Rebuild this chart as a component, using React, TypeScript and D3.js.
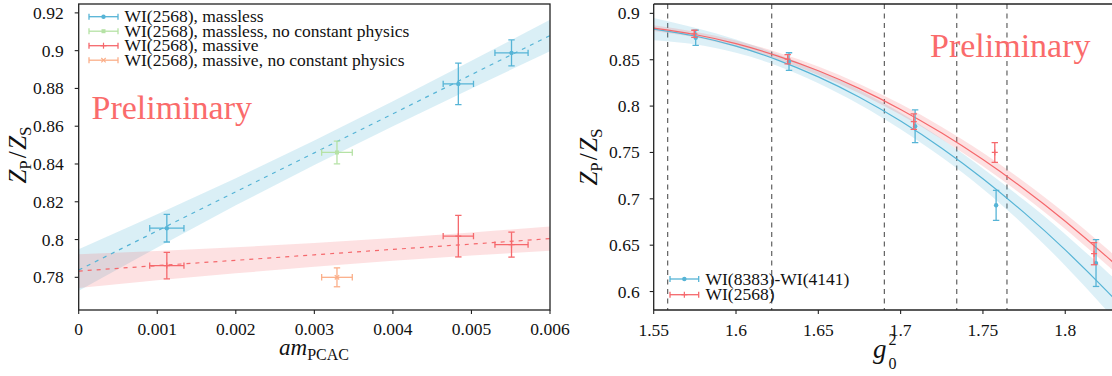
import React from "react";
import * as d3 from "d3";

// ---------- Left panel data ----------
const leftXTicks = [0, 0.001, 0.002, 0.003, 0.004, 0.005, 0.006];
const leftXTickLabels = ["0", "0.001", "0.002", "0.003", "0.004", "0.005", "0.006"];
const leftYTicks = [0.78, 0.8, 0.82, 0.84, 0.86, 0.88, 0.9, 0.92];
const leftYTickLabels = ["0.78", "0.8", "0.82", "0.84", "0.86", "0.88", "0.9", "0.92"];

const masslessX = [0.001122, 0.004833, 0.00551];
const masslessXErr = [0.000218, 0.000193, 0.000211];
const masslessY = [0.806, 0.8824, 0.8988];
const masslessYErr = [0.0073, 0.011, 0.0069];

const masslessNcpX = [0.003288];
const masslessNcpXErr = [0.000195];
const masslessNcpY = [0.8461];
const masslessNcpYErr = [0.006];

const massiveX = [0.001122, 0.004833, 0.00551];
const massiveXErr = [0.000218, 0.000193, 0.000211];
const massiveY = [0.7862, 0.8018, 0.7973];
const massiveYErr = [0.007, 0.011, 0.0066];

const massiveNcpX = [0.003288];
const massiveNcpXErr = [0.000195];
const massiveNcpY = [0.78];
const massiveNcpYErr = [0.005];

const leftFitX = [0, 0.001, 0.002, 0.003, 0.004, 0.005, 0.006];
const masslessFit = [0.7839, 0.8046, 0.8253, 0.8459, 0.8666, 0.8873, 0.908];
const masslessBand = [0.011, 0.0088, 0.0072, 0.0065, 0.0066, 0.0073, 0.0083];
const massiveFit = [0.7833, 0.7862, 0.789, 0.7919, 0.7948, 0.7976, 0.8005];
const massiveBand = [0.0089, 0.0078, 0.0069, 0.0063, 0.006, 0.0061, 0.0064];

const leftLegend = [
  "WI(2568), massless",
  "WI(2568), massless, no constant physics",
  "WI(2568), massive",
  "WI(2568), massive, no constant physics",
];

// ---------- Right panel data ----------
const rightXTicks = [1.55, 1.6, 1.65, 1.7, 1.75, 1.8];
const rightXTickLabels = ["1.55", "1.6", "1.65", "1.7", "1.75", "1.8"];
const rightYTicks = [0.6, 0.65, 0.7, 0.75, 0.8, 0.85, 0.9];
const rightYTickLabels = ["0.6", "0.65", "0.7", "0.75", "0.8", "0.85", "0.9"];

const wi8383X = [1.5755, 1.6322, 1.7088, 1.758, 1.8187];
const wi8383Y = [0.8737, 0.848, 0.7783, 0.693, 0.6307];
const wi8383Err = [0.0083, 0.0095, 0.0176, 0.0162, 0.0252];

const wi2568X = [1.5747, 1.6314, 1.708, 1.7572, 1.8175];
const wi2568Y = [0.878, 0.8506, 0.7832, 0.75, 0.6408];
const wi2568Err = [0.0038, 0.005, 0.0084, 0.0106, 0.0119];

const rightFitX = [1.55, 1.575, 1.6, 1.625, 1.65, 1.675, 1.7, 1.725, 1.75, 1.775, 1.8, 1.825, 1.84];
const wi8383Fit = [0.883, 0.8756, 0.8646, 0.8499, 0.8315, 0.8096, 0.7839, 0.7546, 0.7217, 0.6851, 0.6449, 0.601, 0.5729];
const wi8383Band = [0.012, 0.009, 0.0072, 0.0063, 0.0068, 0.0078, 0.0088, 0.0098, 0.011, 0.0135, 0.017, 0.021, 0.024];
const wi2568Fit = [0.8841, 0.8772, 0.8673, 0.8542, 0.8381, 0.8188, 0.7964, 0.7709, 0.7423, 0.7106, 0.6758, 0.6379, 0.6137];
const wi2568Band = [0.003, 0.003, 0.0035, 0.004, 0.0045, 0.005, 0.0058, 0.0066, 0.0073, 0.0078, 0.0083, 0.0088, 0.0092];

const betaLines = [1.5585, 1.6217, 1.6901, 1.7341, 1.7646];
const rightLegend = ["WI(8383)-WI(4141)", "WI(2568)"];

// ---------- styling ----------
const BLUE = "#56b4d6";
const GREEN = "#b5e2a5";
const RED = "#f5686c";
const ORANGE = "#fbaf8a";
const PRELIM = "#fa6b6b";
const FONT = "Liberation Serif, Tinos, DejaVu Serif, serif";
const TICK_FS = 17.5;
const TS = { fontFamily: FONT };

const W = 1112;
const H = 376;

const L = { left: 78.7, right: 550, top: 4, bottom: 310 };
const R = { left: 653.7, right: 1125, top: 4, bottom: 310 };

const lx = d3.scaleLinear().domain([0, 0.006]).range([L.left, L.right]);
const ly = d3.scaleLinear().domain([0.7627, 0.9247]).range([L.bottom, L.top]);
const rx = d3.scaleLinear().domain([1.55, 1.8363]).range([R.left, R.right]);
const ry = d3.scaleLinear().domain([0.5801, 0.9101]).range([R.bottom, R.top]);

function Marker({ type, x, y, color }: { type: string; x: number; y: number; color: string }) {
  if (type === "circle") return <circle cx={x} cy={y} r={2.2} fill={color} stroke="none" />;
  if (type === "square") return <rect x={x - 2} y={y - 2} width={4} height={4} fill={color} stroke="none" />;
  if (type === "plus")
    return (
      <g stroke={color} strokeWidth={1.2}>
        <line x1={x - 3} x2={x + 3} y1={y} y2={y} />
        <line x1={x} x2={x} y1={y - 3} y2={y + 3} />
      </g>
    );
  if (type === "x")
    return (
      <g stroke={color} strokeWidth={1.2}>
        <line x1={x - 2.2} x2={x + 2.2} y1={y - 2.2} y2={y + 2.2} />
        <line x1={x - 2.2} x2={x + 2.2} y1={y + 2.2} y2={y - 2.2} />
      </g>
    );
  return null;
}

function ErrSeries(props: {
  xs: number[]; ys: number[]; yerr: number[]; xerr?: number[];
  sx: any; sy: any; color: string; marker: string;
}) {
  const { xs, ys, yerr, xerr, sx, sy, color, marker } = props;
  const cap = 3.2;
  return (
    <g>
      {xs.map((xv, i) => {
        const cx = sx(xv);
        const cy = sy(ys[i]);
        const y1 = sy(ys[i] + yerr[i]);
        const y2 = sy(ys[i] - yerr[i]);
        return (
          <g key={i} stroke={color} strokeWidth={1.3}>
            <line x1={cx} x2={cx} y1={y1} y2={y2} />
            <line x1={cx - cap} x2={cx + cap} y1={y1} y2={y1} />
            <line x1={cx - cap} x2={cx + cap} y1={y2} y2={y2} />
            {xerr && (
              <>
                <line x1={sx(xv - xerr[i])} x2={sx(xv + xerr[i])} y1={cy} y2={cy} />
                <line x1={sx(xv - xerr[i])} x2={sx(xv - xerr[i])} y1={cy - cap} y2={cy + cap} />
                <line x1={sx(xv + xerr[i])} x2={sx(xv + xerr[i])} y1={cy - cap} y2={cy + cap} />
              </>
            )}
            <Marker type={marker} x={cx} y={cy} color={color} />
          </g>
        );
      })}
    </g>
  );
}

function LegendHandle({ x1, x2, y, color, marker }: any) {
  return (
    <g stroke={color} strokeWidth={1.3}>
      <line x1={x1} x2={x2} y1={y} y2={y} />
      <line x1={x1} x2={x1} y1={y - 3} y2={y + 3} />
      <line x1={x2} x2={x2} y1={y - 3} y2={y + 3} />
      <Marker type={marker} x={(x1 + x2) / 2} y={y} color={color} />
    </g>
  );
}

function ZLabel({ x, y }: { x: number; y: number }) {
  return (
    <text transform={`translate(${x},${y}) rotate(-90)`} textAnchor="middle" fontSize={25} fill="#111" style={TS}>
      <tspan fontStyle="italic">Z</tspan>
      <tspan fontSize={17} dy={5}>P</tspan>
      <tspan dy={-5} dx={2}>/</tspan>
      <tspan fontStyle="italic" dx={1.5}>Z</tspan>
      <tspan fontSize={17} dy={5}>S</tspan>
    </text>
  );
}

export default function App() {
  const leftArea = (fit: number[], band: number[]) =>
    d3
      .area<number>()
      .x((_, i) => lx(leftFitX[i]))
      .y0((_, i) => ly(fit[i] - band[i]))
      .y1((_, i) => ly(fit[i] + band[i]))(fit) as string;
  const leftLine = (fit: number[]) =>
    d3
      .line<number>()
      .x((_, i) => lx(leftFitX[i]))
      .y((d) => ly(d))(fit) as string;

  const rightArea = (fit: number[], band: number[]) =>
    d3
      .area<number>()
      .curve(d3.curveNatural)
      .x((_, i) => rx(rightFitX[i]))
      .y0((_, i) => ry(fit[i] - band[i]))
      .y1((_, i) => ry(fit[i] + band[i]))(fit) as string;
  const rightLine = (fit: number[]) =>
    d3
      .line<number>()
      .curve(d3.curveNatural)
      .x((_, i) => rx(rightFitX[i]))
      .y((d) => ry(d))(fit) as string;

  const leftLegendColors = [BLUE, GREEN, RED, ORANGE];
  const leftLegendMarkers = ["circle", "square", "plus", "x"];
  const leftLegendRows = [16.7, 31.2, 45.7, 60.2];

  return (
    <svg
      width={W}
      height={H}
      style={{ position: "absolute", left: 0, top: 0, background: "#fff", fontFamily: FONT }}
    >
      <defs>
        <clipPath id="clipL">
          <rect x={L.left} y={L.top} width={L.right - L.left} height={L.bottom - L.top} />
        </clipPath>
        <clipPath id="clipR">
          <rect x={R.left} y={R.top} width={R.right - R.left} height={R.bottom - R.top} />
        </clipPath>
      </defs>

      {/* ================= LEFT PANEL ================= */}
      <g clipPath="url(#clipL)">
        <path d={leftArea(masslessFit, masslessBand)} fill={BLUE} fillOpacity={0.22} />
        <path d={leftArea(massiveFit, massiveBand)} fill={RED} fillOpacity={0.2} />
        <path d={leftLine(masslessFit)} fill="none" stroke={BLUE} strokeWidth={1.2} strokeDasharray="4,5" />
        <path d={leftLine(massiveFit)} fill="none" stroke={RED} strokeWidth={1.2} strokeDasharray="4,5" />
        <ErrSeries xs={masslessX} ys={masslessY} yerr={masslessYErr} xerr={masslessXErr} sx={lx} sy={ly} color={BLUE} marker="circle" />
        <ErrSeries xs={masslessNcpX} ys={masslessNcpY} yerr={masslessNcpYErr} xerr={masslessNcpXErr} sx={lx} sy={ly} color={GREEN} marker="square" />
        <ErrSeries xs={massiveX} ys={massiveY} yerr={massiveYErr} xerr={massiveXErr} sx={lx} sy={ly} color={RED} marker="plus" />
        <ErrSeries xs={massiveNcpX} ys={massiveNcpY} yerr={massiveNcpYErr} xerr={massiveNcpXErr} sx={lx} sy={ly} color={ORANGE} marker="x" />
      </g>

      <text x={91.5} y={118.5} fontSize={34} fill={PRELIM} style={TS}>Preliminary</text>

      {leftLegend.map((t, i) => (
        <g key={t}>
          <LegendHandle x1={89} x2={118} y={leftLegendRows[i]} color={leftLegendColors[i]} marker={leftLegendMarkers[i]} />
          <text x={124.5} y={leftLegendRows[i] + 5.5} fontSize={TICK_FS} fill="#111" style={TS}>{t}</text>
        </g>
      ))}

      <rect x={L.left} y={L.top} width={L.right - L.left} height={L.bottom - L.top} fill="none" stroke="#222" strokeWidth={1.3} />

      {leftXTicks.map((v, i) => (
        <g key={"lxt" + i}>
          <line x1={lx(v)} x2={lx(v)} y1={L.bottom} y2={L.bottom + 4} stroke="#222" strokeWidth={1.1} />
          <text x={lx(v)} y={335} textAnchor="middle" fontSize={TICK_FS} fill="#111" style={TS}>{leftXTickLabels[i]}</text>
        </g>
      ))}
      {leftYTicks.map((v, i) => (
        <g key={"lyt" + i}>
          <line x1={L.left - 4} x2={L.left} y1={ly(v)} y2={ly(v)} stroke="#222" strokeWidth={1.1} />
          <text x={L.left - 15} y={ly(v) + 6} textAnchor="end" fontSize={TICK_FS} fill="#111" style={TS}>{leftYTickLabels[i]}</text>
        </g>
      ))}

      <text x={314} y={355} textAnchor="middle" fontSize={23} fill="#111" style={TS}>
        <tspan fontStyle="italic">am</tspan>
        <tspan fontSize={16} dy={5}>PCAC</tspan>
      </text>

      <ZLabel x={26} y={155} />

      {/* ================= RIGHT PANEL ================= */}
      <g clipPath="url(#clipR)">
        {betaLines.map((b, i) => (
          <line key={"beta" + i} x1={rx(b)} x2={rx(b)} y1={R.top} y2={R.bottom} stroke="#333" strokeOpacity={0.85} strokeWidth={1.1} strokeDasharray="5,4.5" />
        ))}
        <path d={rightArea(wi8383Fit, wi8383Band)} fill={BLUE} fillOpacity={0.2} />
        <path d={rightArea(wi2568Fit, wi2568Band)} fill={RED} fillOpacity={0.2} />
        <path d={rightLine(wi8383Fit)} fill="none" stroke={BLUE} strokeWidth={1.2} />
        <path d={rightLine(wi2568Fit)} fill="none" stroke={RED} strokeWidth={1.2} />
        <ErrSeries xs={wi8383X} ys={wi8383Y} yerr={wi8383Err} sx={rx} sy={ry} color={BLUE} marker="circle" />
        <ErrSeries xs={wi2568X} ys={wi2568Y} yerr={wi2568Err} sx={rx} sy={ry} color={RED} marker="plus" />
      </g>

      <text x={930} y={57} fontSize={34} fill={PRELIM} style={TS}>Preliminary</text>

      {rightLegend.map((t, i) => (
        <g key={t}>
          <LegendHandle x1={670} x2={698.7} y={279 + i * 15.7} color={i === 0 ? BLUE : RED} marker={i === 0 ? "circle" : "plus"} />
          <text x={705.5} y={279 + i * 15.7 + 5.5} fontSize={TICK_FS} fill="#111" style={TS}>{t}</text>
        </g>
      ))}

      <line x1={R.left} x2={R.right} y1={R.top} y2={R.top} stroke="#222" strokeWidth={1.3} />
      <line x1={R.left} x2={R.right} y1={R.bottom} y2={R.bottom} stroke="#222" strokeWidth={1.3} />
      <line x1={R.left} x2={R.left} y1={R.top} y2={R.bottom} stroke="#222" strokeWidth={1.3} />
      <line x1={R.right} x2={R.right} y1={R.top} y2={R.bottom} stroke="#222" strokeWidth={1.3} />

      {rightXTicks.map((v, i) => (
        <g key={"rxt" + i}>
          <line x1={rx(v)} x2={rx(v)} y1={R.bottom} y2={R.bottom + 4} stroke="#222" strokeWidth={1.1} />
          <text x={rx(v)} y={336} textAnchor="middle" fontSize={TICK_FS} fill="#111" style={TS}>{rightXTickLabels[i]}</text>
        </g>
      ))}
      {rightYTicks.map((v, i) => (
        <g key={"ryt" + i}>
          <line x1={R.left - 4} x2={R.left} y1={ry(v)} y2={ry(v)} stroke="#222" strokeWidth={1.1} />
          <text x={R.left - 14} y={ry(v) + 6} textAnchor="end" fontSize={TICK_FS} fill="#111" style={TS}>{rightYTickLabels[i]}</text>
        </g>
      ))}

      <text x={873} y={358} fontSize={27} fontStyle="italic" fill="#111" style={TS}>g</text>
      <text x={888.5} y={345} fontSize={16} fill="#111" style={TS}>2</text>
      <text x={888.5} y={369} fontSize={16} fill="#111" style={TS}>0</text>

      <ZLabel x={597} y={157} />
    </svg>
  );
}
